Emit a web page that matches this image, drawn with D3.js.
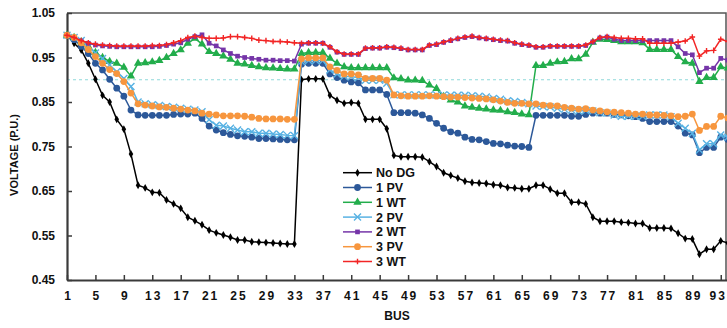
<!DOCTYPE html>
<html>
<head>
<meta charset="utf-8">
<script src="https://cdn.jsdelivr.net/npm/d3@7"></script>
<style>
  body { margin: 0; background: #fff; }
  svg { display: block; font-family: Arial, "Liberation Sans", sans-serif; }
  .tick text { font-weight: bold; font-size: 12px; fill: #111; }
</style>
</head>
<body>
<svg id="chart" width="727" height="328"></svg>
<script>
// bus numbers 1..94 (last one sits on the right edge)
const buses = d3.range(1, 95);
const xTicks = d3.range(1, 94, 4);
const yTicks = [0.45, 0.55, 0.65, 0.75, 0.85, 0.95, 1.05];
const limitLine = 0.9;

const noDG = [
  1.000,0.982,0.967,0.937,0.901,0.865,0.850,0.811,0.789,0.733,
  0.663,0.657,0.647,0.646,0.630,0.621,0.611,0.591,0.583,0.574,
  0.562,0.556,0.551,0.546,0.540,0.540,0.536,0.535,0.534,0.533,
  0.532,0.531,0.531,0.900,0.902,0.902,0.902,0.865,0.854,0.847,
  0.849,0.847,0.811,0.811,0.811,0.790,0.730,0.727,0.727,0.727,
  0.726,0.716,0.705,0.691,0.685,0.679,0.672,0.669,0.668,0.667,
  0.664,0.663,0.658,0.657,0.655,0.655,0.663,0.663,0.654,0.645,
  0.645,0.625,0.625,0.621,0.591,0.582,0.582,0.582,0.580,0.579,
  0.577,0.577,0.567,0.567,0.567,0.566,0.555,0.543,0.542,0.508,
  0.519,0.519,0.538,0.533];
const pv1 = [
  1.000,0.990,0.975,0.959,0.937,0.922,0.901,0.881,0.863,0.832,
  0.821,0.820,0.820,0.820,0.820,0.822,0.823,0.823,0.825,0.813,
  0.796,0.787,0.781,0.777,0.774,0.773,0.771,0.768,0.768,0.767,
  0.766,0.765,0.765,0.935,0.937,0.937,0.937,0.913,0.905,0.899,
  0.895,0.893,0.877,0.877,0.877,0.867,0.826,0.826,0.826,0.825,
  0.821,0.813,0.802,0.791,0.783,0.780,0.771,0.766,0.765,0.761,
  0.757,0.756,0.753,0.751,0.750,0.748,0.820,0.820,0.820,0.820,
  0.820,0.818,0.818,0.822,0.825,0.825,0.825,0.822,0.821,0.819,
  0.817,0.813,0.806,0.806,0.806,0.806,0.796,0.780,0.776,0.736,
  0.748,0.748,0.771,0.766];
const wt1 = [
  1.000,0.995,0.985,0.975,0.961,0.950,0.941,0.937,0.928,0.908,
  0.937,0.938,0.940,0.943,0.950,0.959,0.967,0.982,0.993,0.980,
  0.963,0.959,0.953,0.946,0.937,0.935,0.932,0.929,0.927,0.926,
  0.925,0.924,0.924,0.959,0.961,0.961,0.961,0.948,0.937,0.929,
  0.927,0.927,0.927,0.927,0.927,0.927,0.904,0.902,0.899,0.899,
  0.898,0.888,0.880,0.862,0.854,0.850,0.841,0.838,0.836,0.834,
  0.832,0.831,0.828,0.826,0.823,0.821,0.932,0.932,0.937,0.940,
  0.941,0.947,0.947,0.957,0.984,0.991,0.990,0.988,0.985,0.985,
  0.985,0.983,0.968,0.968,0.968,0.968,0.952,0.940,0.937,0.896,
  0.905,0.905,0.929,0.926];
const pv2 = [
  1.000,0.995,0.988,0.975,0.960,0.948,0.933,0.918,0.903,0.885,
  0.850,0.846,0.844,0.842,0.840,0.838,0.836,0.834,0.832,0.828,
  0.810,0.798,0.796,0.791,0.787,0.783,0.783,0.780,0.780,0.778,
  0.777,0.775,0.774,0.941,0.943,0.943,0.943,0.922,0.913,0.908,
  0.907,0.905,0.899,0.899,0.899,0.892,0.866,0.866,0.866,0.866,
  0.866,0.866,0.866,0.866,0.865,0.865,0.865,0.864,0.863,0.861,
  0.858,0.856,0.853,0.851,0.849,0.846,0.841,0.840,0.839,0.836,
  0.834,0.832,0.830,0.831,0.830,0.826,0.825,0.821,0.818,0.818,
  0.818,0.818,0.821,0.821,0.821,0.817,0.802,0.791,0.780,0.742,
  0.756,0.756,0.776,0.771];
const wt2 = [
  1.000,0.994,0.987,0.982,0.978,0.976,0.975,0.974,0.974,0.974,
  0.974,0.974,0.974,0.975,0.977,0.980,0.983,0.991,0.997,1.001,
  0.982,0.976,0.967,0.959,0.953,0.950,0.948,0.946,0.944,0.944,
  0.943,0.943,0.942,0.980,0.982,0.982,0.982,0.973,0.962,0.957,
  0.957,0.957,0.970,0.971,0.971,0.973,0.972,0.970,0.967,0.967,
  0.967,0.977,0.979,0.984,0.988,0.992,0.995,0.997,0.994,0.992,
  0.990,0.988,0.987,0.982,0.979,0.977,0.973,0.973,0.975,0.975,
  0.975,0.975,0.975,0.977,0.985,0.994,0.996,0.991,0.988,0.988,
  0.988,0.988,0.988,0.988,0.988,0.988,0.974,0.959,0.956,0.916,
  0.926,0.926,0.948,0.944];
const pv3 = [
  1.000,0.995,0.983,0.968,0.952,0.937,0.923,0.914,0.896,0.870,
  0.846,0.843,0.841,0.839,0.838,0.836,0.834,0.832,0.830,0.825,
  0.823,0.821,0.819,0.819,0.819,0.818,0.816,0.813,0.812,0.812,
  0.812,0.811,0.811,0.947,0.949,0.949,0.949,0.929,0.921,0.913,
  0.913,0.911,0.903,0.903,0.903,0.899,0.866,0.864,0.863,0.863,
  0.863,0.864,0.863,0.862,0.861,0.861,0.860,0.859,0.858,0.857,
  0.855,0.852,0.849,0.847,0.847,0.846,0.846,0.843,0.842,0.841,
  0.838,0.836,0.834,0.835,0.832,0.830,0.828,0.827,0.826,0.825,
  0.823,0.823,0.821,0.821,0.820,0.819,0.817,0.818,0.823,0.786,
  0.795,0.795,0.818,0.814];
const wt3 = [
  1.000,0.995,0.988,0.983,0.980,0.978,0.977,0.976,0.976,0.976,
  0.976,0.976,0.977,0.977,0.979,0.983,0.988,0.995,0.998,0.995,
  0.993,0.993,0.994,0.997,0.997,0.995,0.993,0.989,0.988,0.986,
  0.986,0.985,0.983,0.982,0.983,0.983,0.982,0.974,0.963,0.958,
  0.958,0.958,0.971,0.972,0.972,0.974,0.973,0.971,0.968,0.968,
  0.968,0.978,0.980,0.985,0.989,0.993,0.996,0.998,0.995,0.993,
  0.991,0.989,0.988,0.983,0.980,0.978,0.974,0.974,0.976,0.976,
  0.976,0.976,0.976,0.978,0.986,0.995,0.997,0.995,0.993,0.993,
  0.992,0.992,0.982,0.982,0.982,0.982,0.985,0.987,0.996,0.953,
  0.965,0.966,0.991,0.986];

const seriesNames = ['No DG', '1 PV', '1 WT', '2 PV', '2 WT', '3 PV', '3 WT'];
const seriesValues = [noDG, pv1, wt1, pv2, wt2, pv3, wt3];
const seriesColors = ['#000000', '#2c5899', '#22ad4b', '#58b2e3', '#7535a8', '#f7963e', '#f22525'];
const seriesMarkers = ['diamond', 'circle', 'triangle', 'x', 'square', 'circle', 'plus'];

const plotLeft = 67, plotTop = 13, plotBottom = 280, plotRight = 726;
const svg = d3.select('#chart');

const x = d3.scaleLinear().domain([1, 94]).range([plotLeft, plotLeft + 93 * 7.106]);
const y = d3.scaleLinear().domain([0.45, 1.05]).range([plotBottom, plotTop]);

// 0.9 p.u. limit
svg.append('line')
  .attr('x1', plotLeft).attr('x2', plotRight)
  .attr('y1', y(limitLine)).attr('y2', y(limitLine))
  .attr('stroke', '#8fd9da').attr('stroke-width', 1)
  .attr('stroke-dasharray', '3,3');

// frame top / right
svg.append('path')
  .attr('d', `M${plotLeft},${plotTop}H${plotRight}V${plotBottom}`)
  .attr('fill', 'none').attr('stroke', '#555').attr('stroke-width', 1.5);

// axes
const yAxis = svg.append('g')
  .attr('transform', `translate(${plotLeft},0)`)
  .call(d3.axisLeft(y).tickValues(yTicks).tickSize(-5).tickSizeOuter(0)
    .tickPadding(12).tickFormat(d3.format('.2f')));
const xAxis = svg.append('g')
  .attr('transform', `translate(0,${plotBottom})`)
  .call(d3.axisBottom(x).tickValues(xTicks).tickSize(-5).tickSizeOuter(0)
    .tickPadding(11).tickFormat(d3.format('d')));
xAxis.selectAll('text').style('letter-spacing', '2px')
  .attr('dx', d => d === 93 ? '-3px' : '1px');
[xAxis, yAxis].forEach(a => {
  a.select('.domain').attr('stroke', '#3a3a3a').attr('stroke-width', 2.2);
  a.selectAll('.tick line').attr('stroke', '#3a3a3a').attr('stroke-width', 1.5);
});

// axis titles
svg.append('text')
  .attr('x', 397).attr('y', 320)
  .attr('text-anchor', 'middle')
  .style('font-weight', 'bold').style('font-size', '12px').attr('fill', '#111')
  .text('BUS');
svg.append('text')
  .attr('transform', 'translate(18,155) rotate(-90)')
  .attr('text-anchor', 'middle')
  .style('font-weight', 'bold').style('font-size', '11px').attr('fill', '#111')
  .text('VOLTAGE (P.U.)');

function drawMarker(g, kind, color) {
  if (kind === 'x') {
    g.append('path').attr('d', 'M-3.5,-3.5L3.5,3.5M-3.5,3.5L3.5,-3.5')
      .attr('stroke', color).attr('stroke-width', 1.4).attr('fill', 'none');
  } else if (kind === 'plus') {
    g.append('path').attr('d', 'M-2.8,0H2.8M0,-2.8V2.8')
      .attr('stroke', color).attr('stroke-width', 1.4).attr('fill', 'none');
  } else {
    const sym = {
      diamond: [d3.symbolDiamond, 18],
      circle: [d3.symbolCircle, 36],
      triangle: [d3.symbolTriangle, 30],
      square: [d3.symbolSquare, 22],
    }[kind];
    g.append('path').attr('d', d3.symbol().type(sym[0]).size(sym[1])()).attr('fill', color);
  }
}

const line = d3.line().x((d, i) => x(buses[i])).y(d => y(d));

seriesValues.forEach((vals, s) => {
  const g = svg.append('g');
  g.append('path')
    .datum(vals)
    .attr('d', line)
    .attr('fill', 'none')
    .attr('stroke', seriesColors[s])
    .attr('stroke-width', 1.5);
  g.selectAll('g.pt')
    .data(vals)
    .enter()
    .append('g')
    .attr('class', 'pt')
    .attr('transform', (d, i) => `translate(${x(buses[i])},${y(d)})`)
    .each(function () { drawMarker(d3.select(this), seriesMarkers[s], seriesColors[s]); });
});

// legend
const legend = svg.append('g').attr('transform', 'translate(343,172.7)');
seriesNames.forEach((name, i) => {
  const row = legend.append('g').attr('transform', `translate(0,${i * 14.8})`);
  row.append('line').attr('x1', 0).attr('x2', 29).attr('y1', 0).attr('y2', 0)
    .attr('stroke', seriesColors[i]).attr('stroke-width', 1.5);
  drawMarker(row.append('g').attr('transform', 'translate(14.5,0)'), seriesMarkers[i], seriesColors[i]);
  row.append('text').attr('x', 33).attr('y', 0).attr('dy', '0.36em')
    .style('font-weight', 'bold').style('font-size', '12.5px').attr('fill', '#111')
    .text(name);
});
</script>
</body>
</html>
